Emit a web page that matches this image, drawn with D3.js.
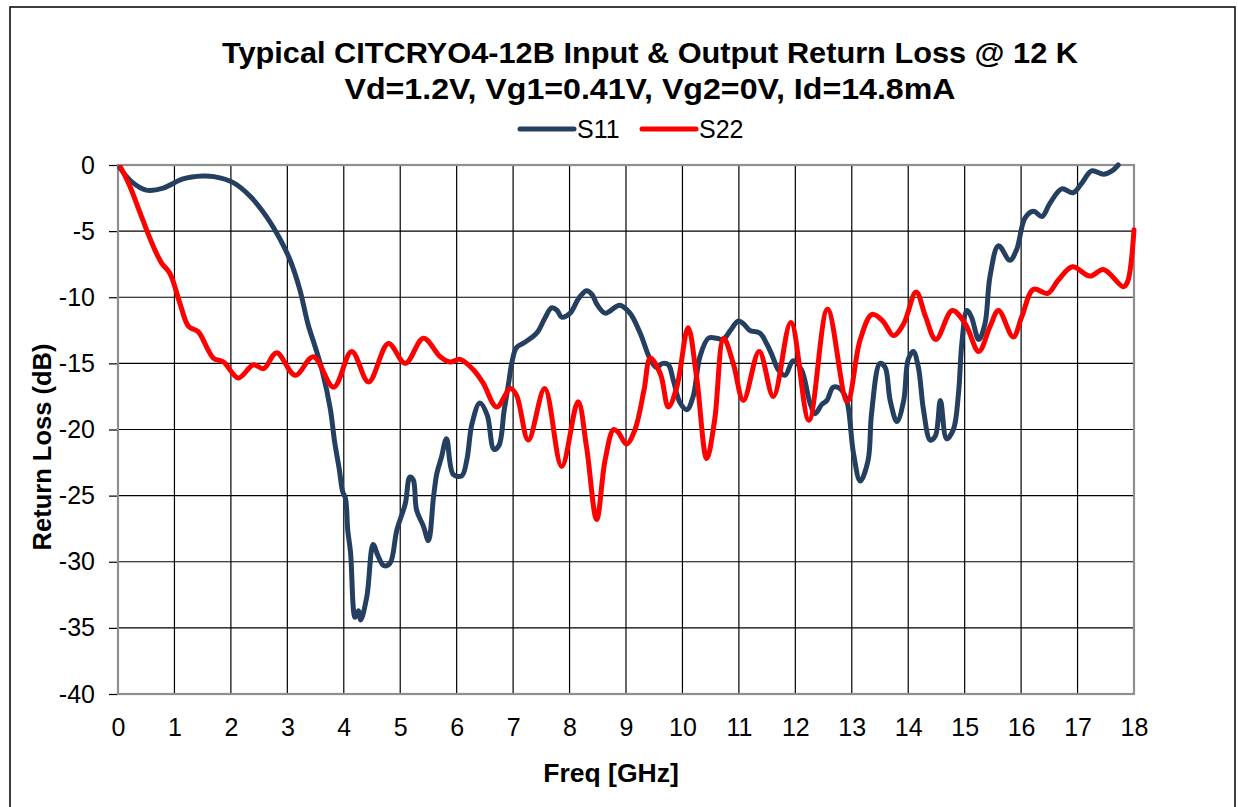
<!DOCTYPE html>
<html><head><meta charset="utf-8">
<script src="https://cdn.jsdelivr.net/npm/d3@7"></script>
<style>
html,body{margin:0;padding:0;background:#fff;}
text{font-family:"Liberation Sans",Arial,sans-serif;}
</style></head>
<body><svg id="c" width="1238" height="807"></svg>
<script>
const titleLines = ["Typical CITCRYO4-12B Input & Output Return Loss @ 12 K", "Vd=1.2V, Vg1=0.41V, Vg2=0V, Id=14.8mA"];
const xTicks = [0,1,2,3,4,5,6,7,8,9,10,11,12,13,14,15,16,17,18];
const yTicks = [0,-5,-10,-15,-20,-25,-30,-35,-40];
const seriesNames = ["S11","S22"];
const seriesColors = ["#243f60","#ff0000"];

const s11Freq = [0.03,0.25,0.5,0.8,1.15,1.5,1.7,2.05,2.35,2.63,2.87,3.05,3.22,3.37,3.49,3.62,3.76,3.84,3.92,3.98,4.03,4.07,4.12,4.20,4.26,4.30,4.41,4.52,4.61,4.71,4.82,4.94,5.09,5.17,5.23,5.29,5.41,5.50,5.59,5.65,5.73,5.82,5.94,6.09,6.18,6.27,6.41,6.54,6.66,6.75,6.84,6.92,6.98,7.06,7.21,7.42,7.56,7.68,7.78,7.86,8.01,8.16,8.30,8.40,8.48,8.63,8.89,9.07,9.25,9.43,9.54,9.65,9.75,9.84,9.96,10.08,10.19,10.31,10.46,10.61,10.72,10.85,10.99,11.08,11.19,11.37,11.49,11.58,11.70,11.82,11.96,12.11,12.26,12.35,12.47,12.56,12.67,12.79,12.91,13.03,13.15,13.29,13.35,13.50,13.59,13.68,13.80,13.92,14.00,14.09,14.18,14.27,14.39,14.48,14.57,14.68,14.80,14.89,14.95,15.04,15.12,15.25,15.36,15.45,15.60,15.80,15.92,16.07,16.22,16.37,16.51,16.72,16.92,17.07,17.25,17.46,17.61,17.72];
const s11Val = [-0.2,-1.3,-1.9,-1.75,-1.05,-0.83,-0.88,-1.35,-2.4,-3.9,-5.6,-7.2,-9.4,-12.1,-13.7,-15.6,-18.4,-21.0,-23.0,-24.7,-25.2,-27.6,-29.3,-34.2,-33.7,-34.4,-32.6,-28.7,-29.6,-30.3,-30.1,-27.6,-25.6,-23.6,-23.8,-26.1,-27.3,-28.4,-25.1,-23.3,-22.1,-20.7,-23.4,-23.5,-22.3,-19.6,-18.0,-18.9,-21.5,-21.2,-18.6,-16.5,-14.9,-13.8,-13.4,-12.7,-11.6,-10.8,-11.0,-11.5,-11.2,-10.1,-9.5,-9.8,-10.5,-11.2,-10.6,-11.2,-12.7,-14.7,-15.3,-15.0,-15.1,-16.3,-18.0,-18.5,-17.5,-14.5,-13.1,-13.1,-13.2,-12.5,-11.8,-12.0,-12.5,-12.7,-13.5,-14.3,-15.5,-15.9,-14.8,-15.5,-18.0,-18.8,-18.1,-17.8,-16.8,-16.9,-17.8,-21.8,-23.9,-22.3,-18.8,-15.0,-15.3,-17.8,-19.4,-17.8,-14.7,-14.1,-15.3,-18.5,-20.8,-20.5,-17.8,-20.7,-20.0,-17.3,-13.5,-11.0,-11.5,-13.2,-12.0,-8.4,-6.1,-7.2,-6.4,-4.0,-3.5,-3.9,-2.9,-1.8,-2.1,-1.4,-0.45,-0.7,-0.45,0];

const s22Freq = [0.05,0.21,0.39,0.60,0.77,0.92,1.10,1.25,1.42,1.69,1.87,2.13,2.40,2.58,2.81,3.14,3.46,3.82,4.14,4.44,4.79,5.09,5.41,5.71,5.88,6.06,6.30,6.47,6.71,6.95,7.06,7.27,7.56,7.86,8.15,8.30,8.48,8.63,8.78,8.86,9.01,9.16,9.32,9.43,9.61,9.75,9.90,10.10,10.25,10.43,10.57,10.73,10.90,11.08,11.36,11.61,11.92,12.24,12.57,12.92,13.15,13.36,13.55,13.74,13.92,14.14,14.31,14.49,14.78,15.01,15.25,15.45,15.60,15.86,16.01,16.22,16.47,16.66,16.91,17.22,17.46,17.81,17.88,18.0];
const s22Val = [-0.2,-1.6,-3.6,-5.9,-7.4,-8.2,-10.5,-12.2,-12.6,-14.6,-14.9,-16.1,-15.1,-15.4,-14.2,-15.9,-14.5,-16.8,-14.1,-16.4,-13.5,-15.0,-13.1,-14.5,-14.9,-14.7,-15.5,-16.5,-18.3,-16.9,-17.4,-20.8,-16.9,-22.8,-17.9,-21.3,-26.8,-22.3,-20.0,-20.2,-21.1,-20.0,-17.0,-14.6,-15.8,-18.3,-16.8,-12.3,-16.0,-22.2,-19.3,-13.1,-15.0,-17.8,-14.1,-17.5,-11.9,-19.3,-10.9,-17.9,-13.2,-11.3,-11.8,-12.9,-12.0,-9.6,-11.5,-13.2,-11.0,-12.0,-14.1,-12.2,-11.0,-13.0,-11.5,-9.4,-9.7,-8.7,-7.7,-8.4,-7.9,-9.2,-8.9,-4.9];

const svg = d3.select("#c");
const m = {left:118, top:165, right:1134, bottom:694};

svg.append("rect").attr("x",10).attr("y",7).attr("width",1225).attr("height",810)
  .attr("fill","#fff").attr("stroke","#000").attr("stroke-width",1.5);

const x = d3.scaleLinear().domain([0,18]).range([m.left,m.right]);
const y = d3.scaleLinear().domain([-40,0]).range([m.bottom,m.top]);

// grid
const g = svg.append("g");
g.selectAll(".vg").data(xTicks.slice(1,-1)).join("line")
  .attr("x1",d=>x(d)).attr("x2",d=>x(d)).attr("y1",m.top).attr("y2",m.bottom)
  .attr("stroke","#000").attr("stroke-width",1.2);
g.selectAll(".hg").data(yTicks.slice(1,-1)).join("line")
  .attr("x1",m.left).attr("x2",m.right).attr("y1",d=>y(d)).attr("y2",d=>y(d))
  .attr("stroke","#000").attr("stroke-width",1.2);

// axes
const yAxis = d3.axisLeft(y).tickValues(yTicks).tickSize(9).tickPadding(14).tickFormat(d=>d);
const ya = svg.append("g").attr("transform",`translate(${m.left},0)`).call(yAxis);
ya.select(".domain").remove();
ya.selectAll("line").attr("stroke","#000").attr("stroke-width",1.2);
ya.selectAll("text").attr("font-size",25).attr("fill","#000").attr("font-family","Liberation Sans, Arial, sans-serif");

const xAxis = d3.axisBottom(x).tickValues(xTicks).tickSize(0).tickPadding(24).tickFormat(d=>d);
const xa = svg.append("g").attr("transform",`translate(0,${m.bottom})`).call(xAxis);
xa.select(".domain").remove();
xa.selectAll("text").attr("font-size",25).attr("fill","#000").attr("font-family","Liberation Sans, Arial, sans-serif");

// plot border
svg.append("rect").attr("x",m.left).attr("y",m.top).attr("width",m.right-m.left).attr("height",m.bottom-m.top)
  .attr("fill","none").attr("stroke","#8f8f8f").attr("stroke-width",2.2);

// lines
const line = d3.line().x(d=>x(d[0])).y(d=>y(d[1])).curve(d3.curveCatmullRom.alpha(0.5));
svg.append("clipPath").attr("id","pc").append("rect")
  .attr("x",m.left-3).attr("y",m.top-3).attr("width",m.right-m.left+6).attr("height",m.bottom-m.top+6);
const series = [d3.zip(s11Freq,s11Val), d3.zip(s22Freq,s22Val)];
svg.append("g").attr("clip-path","url(#pc)").selectAll("path").data(series).join("path")
  .attr("d",line).attr("fill","none").attr("stroke",(d,i)=>seriesColors[i])
  .attr("stroke-width",5).attr("stroke-linejoin","round").attr("stroke-linecap","round");

// title
const titleWidths = [856, 611];
svg.selectAll(".title").data(titleLines).join("text")
  .attr("x",650).attr("y",(d,i)=>63+i*36).attr("text-anchor","middle")
  .attr("font-size",29).attr("font-weight","bold").attr("fill","#000")
  .attr("textLength",(d,i)=>titleWidths[i]).attr("lengthAdjust","spacingAndGlyphs").text(d=>d);

// legend
const legX = [520,642];
seriesNames.forEach((n,i)=>{
  svg.append("line").attr("x1",legX[i]).attr("x2",legX[i]+54).attr("y1",129).attr("y2",129)
    .attr("stroke",seriesColors[i]).attr("stroke-width",5).attr("stroke-linecap","round");
  svg.append("text").attr("x",legX[i]+57).attr("y",138).attr("font-size",25).attr("fill","#000").text(n);
});

// axis titles
svg.append("text").attr("x",611).attr("y",782).attr("text-anchor","middle")
  .attr("font-size",26.5).attr("font-weight","bold").text("Freq [GHz]");
svg.append("text").attr("transform","translate(51,447) rotate(-90)").attr("text-anchor","middle")
  .attr("font-size",25.5).attr("font-weight","bold").text("Return Loss (dB)");
</script></body></html>
